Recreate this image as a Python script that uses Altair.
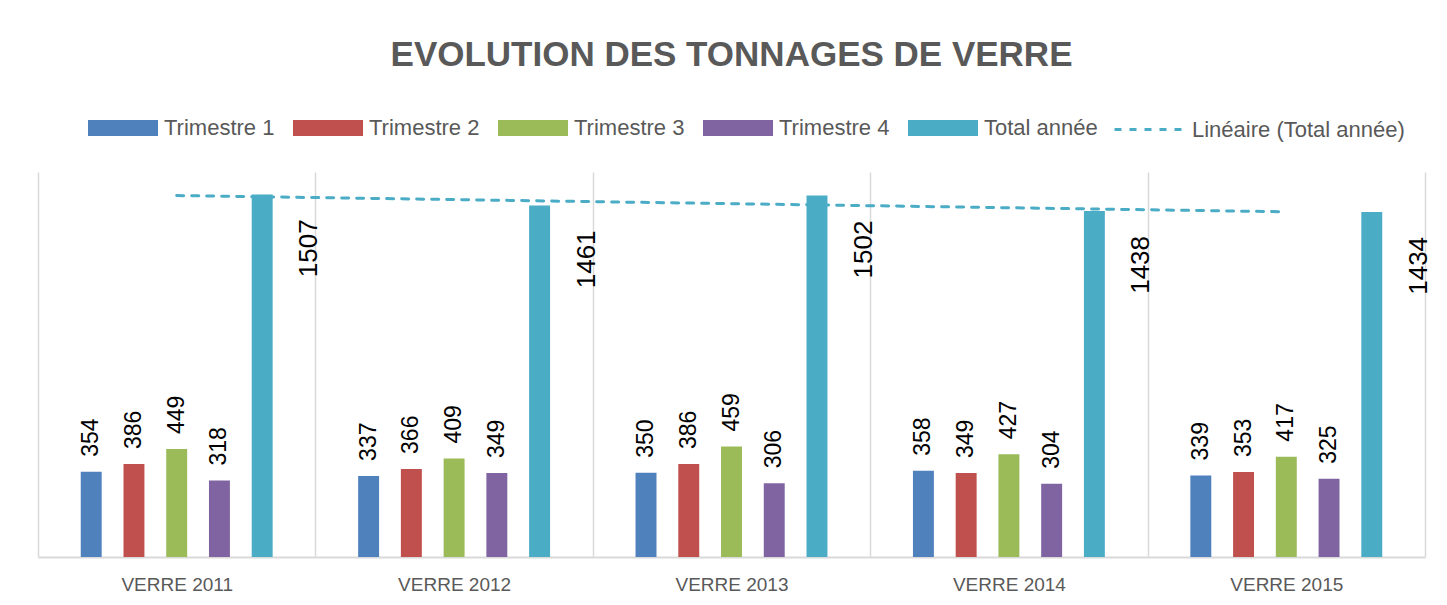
import altair as alt
import pandas as pd

# ---- data ----
years = ["VERRE 2011", "VERRE 2012", "VERRE 2013", "VERRE 2014", "VERRE 2015"]
series = ["Trimestre 1", "Trimestre 2", "Trimestre 3", "Trimestre 4", "Total année"]
trimestre_1 = [354, 337, 350, 358, 339]
trimestre_2 = [386, 366, 386, 349, 353]
trimestre_3 = [449, 409, 459, 427, 417]
trimestre_4 = [318, 349, 306, 304, 325]
total_annee = [1507, 1461, 1502, 1438, 1434]
colors = ["#4F81BD", "#C0504D", "#9BBB59", "#8064A2", "#4BACC6"]
trend_label = "Linéaire (Total année)"
title_text = "EVOLUTION DES TONNAGES DE VERRE"
y_domain = [0, 1600]

values_by_series = [trimestre_1, trimestre_2, trimestre_3, trimestre_4, total_annee]
rows = []
for s, vals in zip(series, values_by_series):
    for i, (yr, v) in enumerate(zip(years, vals)):
        rows.append({"year": yr, "idx": i + 1, "series": s, "value": v})
df = pd.DataFrame(rows)
df_total = pd.DataFrame({"year": years, "idx": list(range(1, len(years) + 1)), "total": total_annee})

FONT = "Liberation Sans"
GRAY = "#595959"
GRID = "#D9D9D9"

x_enc = alt.X(
    "year:N", sort=years,
    scale=alt.Scale(paddingInner=0, paddingOuter=0),
    axis=alt.Axis(title=None, grid=True, gridColor=GRID, gridWidth=1.5, tickBand="extent",
                  domainColor=GRID, domainWidth=2, ticks=False, labelFontSize=19,
                  labelColor=GRAY, labelFont=FONT, labelPadding=18, labelAngle=0),
)
xoff_enc = alt.XOffset("series:N", sort=series,
                       scale=alt.Scale(paddingInner=0.51, paddingOuter=1))
y_enc = alt.Y("value:Q", scale=alt.Scale(domain=y_domain), axis=None)

base = alt.Chart(df)

bars = base.mark_bar().encode(
    x=x_enc, xOffset=xoff_enc, y=y_enc,
    color=alt.Color(
        "series:N", sort=series,
        scale=alt.Scale(domain=series, range=colors),
        legend=alt.Legend(
            orient="none", legendX=50, legendY=-79, direction="horizontal", title=None,
            symbolType="M-1,-0.23L1,-0.23L1,0.23L-1,0.23Z", symbolSize=4900,
            symbolStrokeWidth=0, labelFontSize=22, labelColor=GRAY, labelFont=FONT,
            labelLimit=300, columnPadding=18, labelOffset=6, padding=0,
        ),
    ),
)

labels_q = base.transform_filter(alt.datum.series != "Total année").mark_text(
    angle=270, align="left", baseline="middle", dx=15, fontSize=23, font=FONT, color="#000000"
).encode(x=x_enc, xOffset=xoff_enc, y=y_enc, text="value:Q")

labels_t = base.transform_filter(alt.datum.series == "Total année").mark_text(
    angle=270, align="right", baseline="middle", dx=-25, dy=47, fontSize=26, font=FONT, color="#000000"
).encode(x=x_enc, xOffset=xoff_enc, y=y_enc, text="value:Q")

trend = alt.Chart(df_total).transform_regression(
    "idx", "total", method="linear"
).transform_lookup(
    lookup="idx", from_=alt.LookupData(data=df_total, key="idx", fields=["year"])
).transform_calculate(
    trend=f"'{trend_label}'"
).mark_line(color="#4BACC6", strokeWidth=3, strokeCap="round").encode(
    x=alt.X("year:N", sort=years),
    y=alt.Y("total:Q", scale=alt.Scale(domain=y_domain), axis=None),
    strokeDash=alt.StrokeDash(
        "trend:N", scale=alt.Scale(domain=[trend_label], range=[[7, 8]]),
        legend=alt.Legend(
            orient="none", legendX=1075, legendY=-79, direction="horizontal", title=None,
            symbolType="M-1,0L1,0", symbolSize=4900, symbolStrokeColor="#4BACC6",
            symbolStrokeWidth=3, labelFontSize=22, labelColor=GRAY, labelFont=FONT,
            labelLimit=300, labelOffset=6, padding=0,
        ),
    ),
)

chart = alt.layer(bars, labels_q, labels_t, trend).properties(
    width=1387, height=385,
    title=alt.Title(title_text, fontSize=35, font=FONT, fontWeight="bold", color=GRAY,
                    anchor="middle", offset=26, dy=34, baseline="alphabetic"),
    autosize=alt.AutoSizeParams(type="none"),
    padding={"left": 30, "top": 164, "right": 14, "bottom": 40},
    background="white",
).resolve_scale(x="shared").configure_view(stroke=None)

chart.save("out.html", embed_options={"renderer": "svg", "actions": False})
